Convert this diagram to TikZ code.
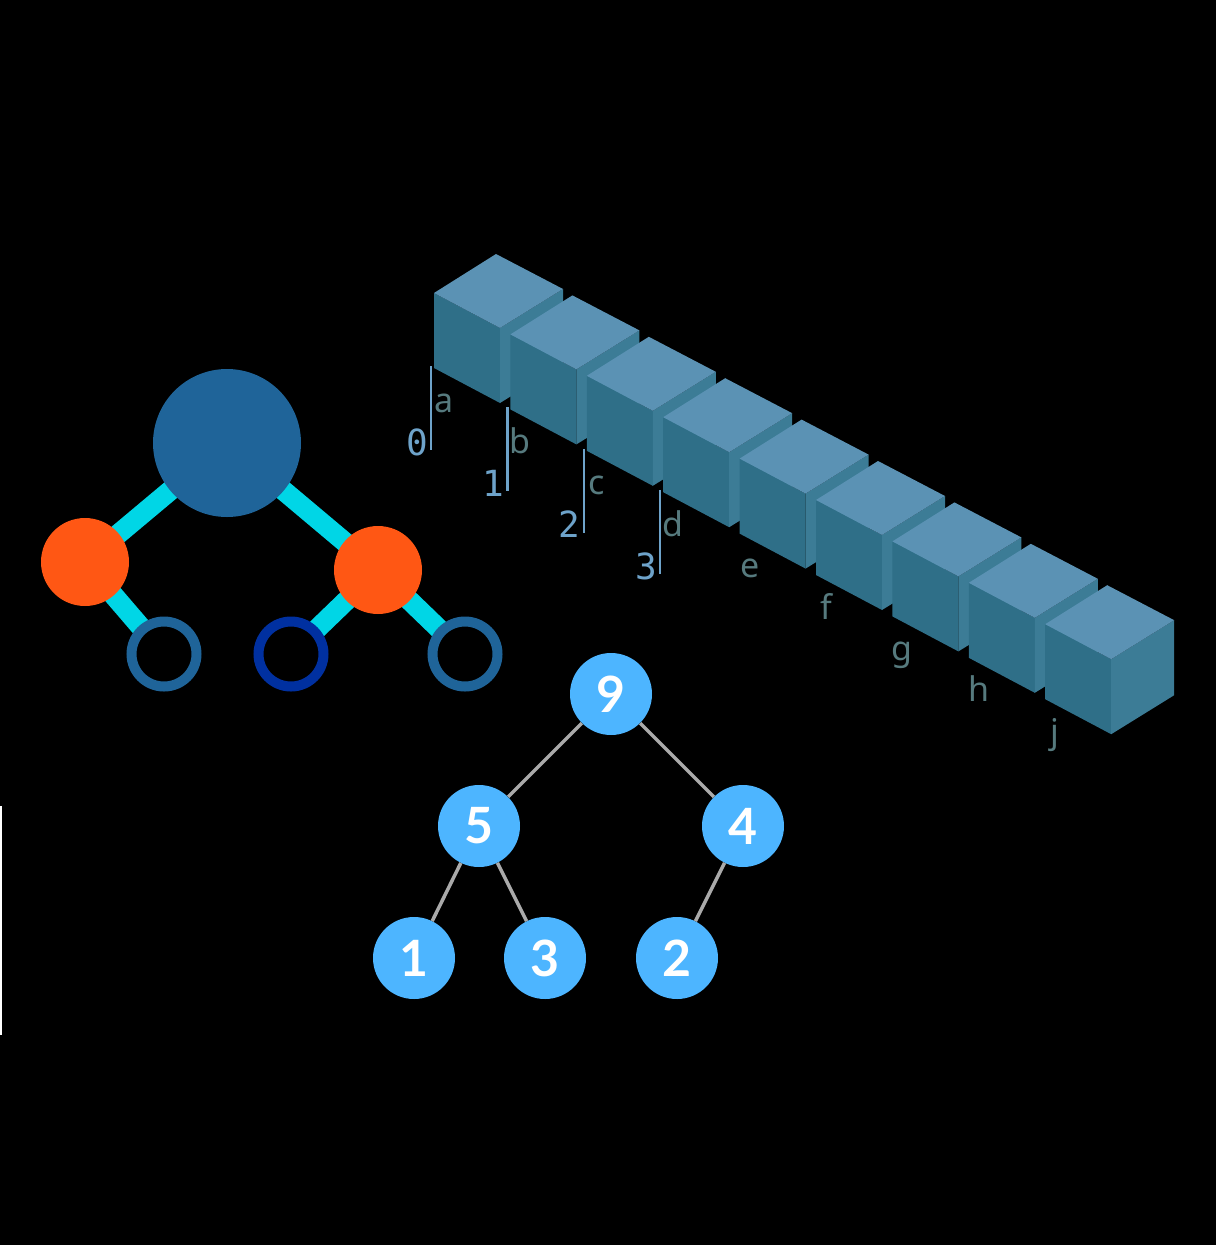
\documentclass[tikz,border=0pt]{standalone}
\usepackage{fontspec}
\newfontfamily\letterfont{Noto Sans}
\newfontfamily\digitfont{DejaVu Sans Mono}
\newfontfamily\heapfont{Lato}
\usetikzlibrary{positioning}

\definecolor{cubetopc}{RGB}{91,146,180}
\definecolor{cubeleftc}{RGB}{47,111,136}
\definecolor{cuberightc}{RGB}{60,124,150}
\definecolor{tickc}{RGB}{110,163,202}
\definecolor{letterc}{RGB}{86,122,126}
\definecolor{rootc}{RGB}{31,100,153}
\definecolor{orangec}{RGB}{255,87,20}
\definecolor{cyanc}{RGB}{0,214,230}
\definecolor{deepc}{RGB}{0,48,160}
\definecolor{heapc}{RGB}{77,181,255}
\definecolor{heapedgec}{RGB}{170,170,170}

\pgfdeclarelayer{bg}
\pgfdeclarelayer{edges}
\pgfsetlayers{bg,edges,main}

\begin{document}
\begin{tikzpicture}[
  x=1pt, y=-1pt,
  root/.style={circle, fill=rootc, inner sep=0pt, minimum size=148},
  redball/.style={circle, fill=orangec, inner sep=0pt, minimum size=88},
  ring/.style={circle, fill=black, draw=rootc, line width=10, inner sep=0pt, minimum size=65},
  deepring/.style={ring, draw=deepc},
  limb/.style={draw=cyanc, line width=20},
  heap/.style={circle, fill=heapc, inner sep=0pt, minimum size=82, text=white,
               font=\heapfont\bfseries\fontsize{50}{54}\selectfont},
  heapedge/.style={draw=heapedgec, line width=3.5},
  tick/.style={draw=tickc, line width=2.5},
  letter/.style={text=letterc, inner sep=0pt, font=\letterfont\fontsize{34}{40}\selectfont},
  digit/.style={text=tickc, inner sep=0pt, font=\digitfont\fontsize{36}{40}\selectfont}
]
\begin{pgfonlayer}{bg}
\fill[black] (0,0) rectangle (1216,1245);
\end{pgfonlayer}
\useasboundingbox (0,0) rectangle (1216,1245);

% thin line at left edge
\coordinate (e1) at (1,806);
\coordinate (e2) at (1,1035);
\draw[white, line width=2] (e1) -- (e2);

% row of cubes
\foreach \i in {0,...,8} {
  \begin{scope}[shift={({434+76.4*\i},{293+41.4*\i})}]
    \fill[cubeleftc] (0,0) -- (66,35) -- (66,110) -- (0,75) -- cycle;
    \fill[cuberightc] (66,35) -- (129,-4) -- (129,71) -- (66,110) -- cycle;
    \fill[cubetopc] (0,0) -- (62,-39) -- (129,-4) -- (66,35) -- cycle;
  \end{scope}
}

% index ticks
\foreach \n in {0,...,3} {
  \coordinate (t\n) at ({431+76.4*\n},{366+41.4*\n});
  \coordinate (b\n) at ({431+76.4*\n},{450+41.4*\n});
  \draw[tick] (t\n) -- (b\n);
  \node[digit, anchor=base] (d\n) at ({417+76.4*\n},{455+41.4*\n}) {\n};
}
\foreach \l [count=\k from 0] in {a,b,c,d,e,f,g,h,j}
  \node[letter, anchor=base] (l\l) at ({444+76.4*\k},{412+41.4*\k}) {\l};

% tree with rings
\node[root]     (top)  at (227,443) {};
\node[redball]  (redl) at (85,562)  {};
\node[redball]  (redr) at (378,570) {};
\node[ring]     (rl)   at (164,654) {};
\node[deepring] (rm)   at (291,654) {};
\node[ring]     (rr)   at (465,654) {};

\begin{pgfonlayer}{edges}
\draw[limb] (top.center) -- (redl.center);
\draw[limb] (top.center) -- (redr.center);
\draw[limb] (redl.center) -- (rl.center);
\draw[limb] (redr.center) -- (rm.center);
\draw[limb] (redr.center) -- (rr.center);
\end{pgfonlayer}

% heap
\node[heap] (h9) at (611,694) {9};
\node[heap] (h5) at (479,826) {5};
\node[heap] (h4) at (743,826) {4};
\node[heap] (h1) at (414,958) {1};
\node[heap] (h3) at (545,958) {3};
\node[heap] (h2) at (677,958) {2};

\draw[heapedge] (h9) -- (h5);
\draw[heapedge] (h9) -- (h4);
\draw[heapedge] (h5) -- (h1);
\draw[heapedge] (h5) -- (h3);
\draw[heapedge] (h4) -- (h2);
\end{tikzpicture}
\end{document}
